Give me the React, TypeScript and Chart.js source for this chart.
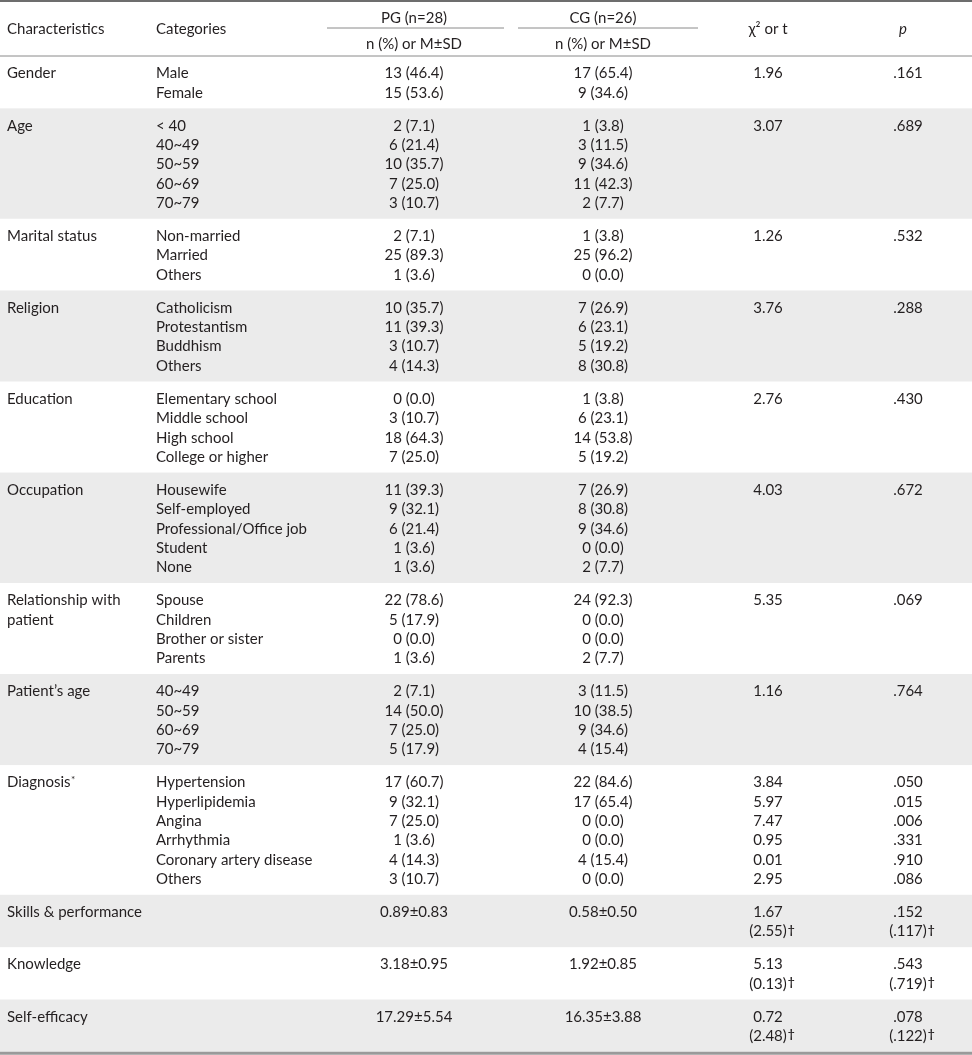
import React, { useEffect, useRef } from "react";
import { Chart, registerables } from "chart.js";

Chart.register(...registerables);

// ---------- data ----------
const characteristics: string[] = [
  "Gender",
  "Age",
  "Marital status",
  "Religion",
  "Education",
  "Occupation",
  "Relationship with\npatient",
  "Patient\u2019s age",
  "Diagnosis*",
  "Skills & performance",
  "Knowledge",
  "Self-efficacy",
];

const categories: string[][] = [
  ["Male", "Female"],
  ["< 40", "40~49", "50~59", "60~69", "70~79"],
  ["Non-married", "Married", "Others"],
  ["Catholicism", "Protestantism", "Buddhism", "Others"],
  ["Elementary school", "Middle school", "High school", "College or higher"],
  ["Housewife", "Self-employed", "Professional/Office job", "Student", "None"],
  ["Spouse", "Children", "Brother or sister", "Parents"],
  ["40~49", "50~59", "60~69", "70~79"],
  ["Hypertension", "Hyperlipidemia", "Angina", "Arrhythmia", "Coronary artery disease", "Others"],
  [],
  [],
  [],
];

const pgValues: string[][] = [
  ["13 (46.4)", "15 (53.6)"],
  ["2 (7.1)", "6 (21.4)", "10 (35.7)", "7 (25.0)", "3 (10.7)"],
  ["2 (7.1)", "25 (89.3)", "1 (3.6)"],
  ["10 (35.7)", "11 (39.3)", "3 (10.7)", "4 (14.3)"],
  ["0 (0.0)", "3 (10.7)", "18 (64.3)", "7 (25.0)"],
  ["11 (39.3)", "9 (32.1)", "6 (21.4)", "1 (3.6)", "1 (3.6)"],
  ["22 (78.6)", "5 (17.9)", "0 (0.0)", "1 (3.6)"],
  ["2 (7.1)", "14 (50.0)", "7 (25.0)", "5 (17.9)"],
  ["17 (60.7)", "9 (32.1)", "7 (25.0)", "1 (3.6)", "4 (14.3)", "3 (10.7)"],
  ["0.89\u00B10.83"],
  ["3.18\u00B10.95"],
  ["17.29\u00B15.54"],
];

const cgValues: string[][] = [
  ["17 (65.4)", "9 (34.6)"],
  ["1 (3.8)", "3 (11.5)", "9 (34.6)", "11 (42.3)", "2 (7.7)"],
  ["1 (3.8)", "25 (96.2)", "0 (0.0)"],
  ["7 (26.9)", "6 (23.1)", "5 (19.2)", "8 (30.8)"],
  ["1 (3.8)", "6 (23.1)", "14 (53.8)", "5 (19.2)"],
  ["7 (26.9)", "8 (30.8)", "9 (34.6)", "0 (0.0)", "2 (7.7)"],
  ["24 (92.3)", "0 (0.0)", "0 (0.0)", "2 (7.7)"],
  ["3 (11.5)", "10 (38.5)", "9 (34.6)", "4 (15.4)"],
  ["22 (84.6)", "17 (65.4)", "0 (0.0)", "0 (0.0)", "4 (15.4)", "0 (0.0)"],
  ["0.58\u00B10.50"],
  ["1.92\u00B10.85"],
  ["16.35\u00B13.88"],
];

const statValues: string[][] = [
  ["1.96"],
  ["3.07"],
  ["1.26"],
  ["3.76"],
  ["2.76"],
  ["4.03"],
  ["5.35"],
  ["1.16"],
  ["3.84", "5.97", "7.47", "0.95", "0.01", "2.95"],
  ["1.67", "(2.55)\u2020"],
  ["5.13", "(0.13)\u2020"],
  ["0.72", "(2.48)\u2020"],
];

const pValues: string[][] = [
  [".161"],
  [".689"],
  [".532"],
  [".288"],
  [".430"],
  [".672"],
  [".069"],
  [".764"],
  [".050", ".015", ".006", ".331", ".910", ".086"],
  [".152", "(.117)\u2020"],
  [".543", "(.719)\u2020"],
  [".078", "(.122)\u2020"],
];

const headerLabels = {
  characteristics: "Characteristics",
  categories: "Categories",
  pg: "PG (n=28)",
  cg: "CG (n=26)",
  sub: "n (%) or M\u00B1SD",
  stat: "\u03C7\u00B2 or t",
  p: "p",
};

// ---------- layout / style ----------
const W = 972;
const H = 1055;
const FONT = "Lato, 'Noto Sans', sans-serif";
const FONT_SIZE = 15;
const TEXT = "#231f20";
const BAND = "#ebebeb";
const L = {
  charX: 7,
  catX: 156,
  pgX: 414,
  cgX: 603,
  statX: 768,
  pX: 908,
  pgLine: [327, 504],
  cgLine: [518, 698],
  topLine: 1,
  groupTitleY: 17,
  groupLineY: 28,
  subY: 43,
  headerMidY: 28,
  headerBottom: 56,
  rowStep: 19.35,
  firstPad: 16.5,
  blockPad: 33,
  textShift: 1,
};

function blockRows(b: number): number {
  return Math.max(
    categories[b].length,
    pgValues[b].length,
    cgValues[b].length,
    statValues[b].length,
    pValues[b].length,
    characteristics[b].split("\n").length
  );
}

const tablePlugin = {
  id: "tablePlugin",
  afterDraw(chart: any) {
    const ctx: CanvasRenderingContext2D = chart.ctx;
    const xs = chart.scales.x;
    const ys = chart.scales.y;
    const px = (v: number) => xs.getPixelForValue(v);
    const py = (v: number) => ys.getPixelForValue(v);

    const font = (size: number, italic = false) =>
      `${italic ? "italic " : ""}${size}px ${FONT}`;

    const drawText = (
      str: string,
      x: number,
      y: number,
      align: "left" | "center",
      italic = false
    ) => {
      let main = str;
      let sup = "";
      if (str.endsWith("\u2020") || str.endsWith("*")) {
        main = str.slice(0, -1);
        sup = str.slice(-1);
      }
      const ty = py(y + L.textShift);
      ctx.save();
      ctx.fillStyle = TEXT;
      ctx.textBaseline = "middle";
      ctx.font = font(FONT_SIZE, italic);
      ctx.textAlign = align;
      ctx.fillText(main, px(x), ty);
      if (sup) {
        const w = ctx.measureText(main).width;
        const endX = align === "center" ? px(x) + w / 2 : px(x) + w;
        ctx.textAlign = "left";
        if (sup === "\u2020") {
          ctx.font = `bold 12px ${FONT}`;
          ctx.fillText(sup, endX + 1, ty - 2);
        } else {
          ctx.font = font(10);
          ctx.fillText(sup, endX + 0.5, ty - 3);
        }
      }
      ctx.restore();
    };

    const hLine = (x0: number, x1: number, y: number, color: string, width: number) => {
      ctx.save();
      ctx.strokeStyle = color;
      ctx.lineWidth = width;
      ctx.beginPath();
      ctx.moveTo(px(x0), py(y));
      ctx.lineTo(px(x1), py(y));
      ctx.stroke();
      ctx.restore();
    };

    // body bands and text
    let top = L.headerBottom;
    for (let b = 0; b < characteristics.length; b++) {
      const n = blockRows(b);
      const h = (n - 1) * L.rowStep + L.blockPad;
      if (b % 2 === 1) {
        ctx.save();
        ctx.fillStyle = BAND;
        ctx.fillRect(px(0), py(top), px(W) - px(0), py(top + h) - py(top));
        ctx.restore();
      }
      const rowY = (i: number) => top + L.firstPad + i * L.rowStep;
      characteristics[b].split("\n").forEach((s, i) => drawText(s, L.charX, rowY(i), "left"));
      categories[b].forEach((s, i) => drawText(s, L.catX, rowY(i), "left"));
      pgValues[b].forEach((s, i) => drawText(s, L.pgX, rowY(i), "center"));
      cgValues[b].forEach((s, i) => drawText(s, L.cgX, rowY(i), "center"));
      statValues[b].forEach((s, i) => drawText(s, L.statX, rowY(i), "center"));
      pValues[b].forEach((s, i) => drawText(s, L.pX, rowY(i), "center"));
      top += h;
    }

    // header
    drawText(headerLabels.characteristics, L.charX, L.headerMidY, "left");
    drawText(headerLabels.categories, L.catX, L.headerMidY, "left");
    drawText(headerLabels.pg, L.pgX, L.groupTitleY, "center");
    drawText(headerLabels.cg, L.cgX, L.groupTitleY, "center");
    drawText(headerLabels.sub, L.pgX, L.subY, "center");
    drawText(headerLabels.sub, L.cgX, L.subY, "center");
    drawText(headerLabels.stat, L.statX, L.headerMidY, "center");
    drawText(headerLabels.p, L.pX - 5, L.headerMidY, "center", true);

    // rules
    hLine(0, W, L.topLine, "#6d6d6d", 2);
    hLine(L.pgLine[0], L.pgLine[1], L.groupLineY, "#8a8a8a", 1);
    hLine(L.cgLine[0], L.cgLine[1], L.groupLineY, "#8a8a8a", 1);
    hLine(0, W, L.headerBottom, "#8a8a8a", 1);
    hLine(0, W, top + 1.5, "#9a9a9a", 3);
  },
};

export default function App() {
  const ref = useRef<HTMLCanvasElement | null>(null);

  useEffect(() => {
    if (!ref.current) return;
    const chart = new Chart(ref.current, {
      type: "scatter",
      data: { datasets: [] },
      options: {
        animation: false,
        responsive: false,
        maintainAspectRatio: false,
        devicePixelRatio: 1,
        layout: { padding: 0 },
        events: [],
        plugins: {
          legend: { display: false },
          tooltip: { enabled: false },
          title: { display: false },
        },
        scales: {
          x: { type: "linear", min: 0, max: W, display: false },
          y: { type: "linear", min: 0, max: H, reverse: true, display: false },
        },
      },
      plugins: [tablePlugin],
    });
    return () => chart.destroy();
  }, []);

  return (
    <div style={{ position: "absolute", left: 0, top: 0, width: W, height: H, background: "#fff" }}>
      <canvas ref={ref} width={W} height={H} style={{ display: "block", width: W, height: H }} />
    </div>
  );
}
